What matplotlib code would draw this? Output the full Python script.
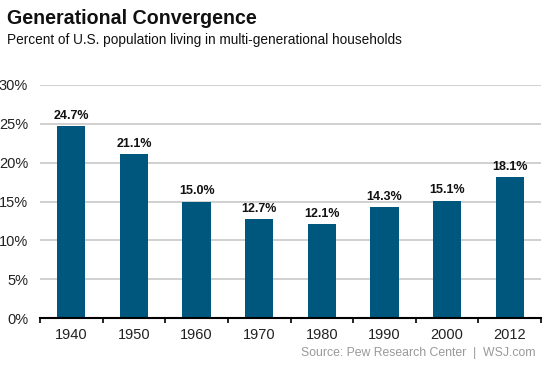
import matplotlib
matplotlib.use("Agg")
import matplotlib.pyplot as plt
import numpy as np

years = ["1940", "1950", "1960", "1970", "1980", "1990", "2000", "2012"]
values = [24.7, 21.1, 15.0, 12.7, 12.1, 14.3, 15.1, 18.1]
yticks = [0, 5, 10, 15, 20, 25, 30]

plt.rcParams['font.family'] = ['Liberation Sans', 'DejaVu Sans']

fig = plt.figure(figsize=(5.53, 3.69), dpi=100)
W, H = 553, 369
left, right, bottom, top = 40, 541, 318, 85
ax = fig.add_axes([left / W, 1 - bottom / H, (right - left) / W, (bottom - top) / H])

x = np.arange(len(years))
color = "#00577e"
ax.bar(x, values, width=0.45, color=color, zorder=3)
for xi, v in zip(x, values):
    ax.text(xi, v + 0.55, f"{v:.1f}%", ha="center", va="bottom", fontsize=9,
            fontweight="bold", color="#111111", zorder=4, fontstretch="condensed")

ax.set_xlim(-0.5, len(years) - 0.5)
ax.set_ylim(0, 30)
ax.set_yticks(yticks)
ax.set_yticklabels([f"{t}%" for t in yticks], fontsize=10.5, color="#222222")
for t in yticks[1:]:
    ax.axhline(t, color="#c8c8c8", lw=1.2, zorder=1)

ax.set_xticks(x)
ax.set_xticklabels(years, fontsize=10.5, color="#222222")
ax.tick_params(axis="x", length=0, pad=7)
ax.tick_params(axis="y", length=0, pad=8.5)
# boundary tick marks
ax.set_xticks(np.arange(-0.5, len(years), 1.0), minor=True)
ax.tick_params(axis="x", which="minor", length=3.8, width=1.2, direction="out", color="black")

for s in ["top", "right", "left"]:
    ax.spines[s].set_visible(False)
ax.spines["bottom"].set_color("black")
ax.spines["bottom"].set_linewidth(1.5)
ax.spines["bottom"].set_zorder(5)

fig.text(7 / W, 1 - 18 / H, "Generational Convergence", fontsize=14.1, fontweight="bold",
         ha="left", va="center", color="#111111")
fig.text(7 / W, 1 - 40 / H, "Percent of U.S. population living in multi-generational households",
         fontsize=9.8, ha="left", va="center", color="#111111")
fig.text(536 / W, 1 - 353 / H, "Source: Pew Research Center  |  WSJ.com", fontsize=8.8,
         ha="right", va="center", color="#999999")

fig.savefig("out.png", dpi=100)
